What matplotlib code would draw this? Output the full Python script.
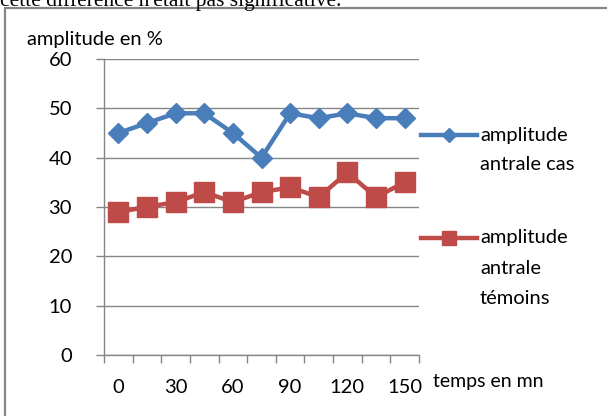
import matplotlib
matplotlib.use("Agg")
import matplotlib.pyplot as plt
from matplotlib.lines import Line2D
from matplotlib.patches import Rectangle

times = [0, 15, 30, 45, 60, 75, 90, 105, 120, 135, 150]
cas = [45, 47, 49, 49, 45, 40, 49, 48, 49, 48, 48]
temoins = [29, 30, 31, 33, 31, 33, 34, 32, 37, 32, 35]
yticks = [0, 10, 20, 30, 40, 50, 60]
label_cas = "amplitude\nantrale cas"
label_tem = "amplitude\nantrale\ntémoins"

W, H = 607, 416
fig = plt.figure(figsize=(W / 100, H / 100), dpi=100)
plt.rcParams['font.family'] = ['Lato', 'DejaVu Sans']

gray = '#868686'
blue = '#4A7EBB'
red = '#BE4B48'
fs = 14.5
lw = 3.2

def fx(px):
    return px / W

def fy(py):
    return 1 - py / H

# outer frame
fig.patches.append(Rectangle((fx(5), fy(440)), fx(700), fy(8) - fy(440),
                             transform=fig.transFigure, fill=False,
                             edgecolor=gray, linewidth=1.6))
# cropped text above
fig.text(fx(0), fy(6), "cette différence n'était pas significative.",
         family='Liberation Serif', fontsize=15.5, va='baseline', ha='left')

ax = fig.add_axes([fx(104), fy(355), fx(419) - fx(104), fy(59) - fy(355)])
x = list(range(len(times)))
ax.plot(x, cas, color=blue, lw=lw, marker='D', ms=10.5, zorder=3)
ax.plot(x, temoins, color=red, lw=lw, marker='s', ms=14.5, zorder=3)

ax.set_xlim(-0.5, len(times) - 0.5)
ax.set_ylim(0, 60)
ax.set_yticks(yticks)
ax.set_yticklabels([str(v) for v in yticks], fontsize=fs)
ax.set_xticks(x[::2])
ax.set_xticklabels([str(t) for t in times[::2]], fontsize=fs)
ax.set_xticks([i - 0.5 for i in range(len(times) + 1)], minor=True)
ax.tick_params(axis='x', which='major', length=0, pad=17)
ax.tick_params(axis='x', which='minor', length=6, color=gray, width=1, direction='out')
ax.tick_params(axis='y', length=6, color=gray, width=1, direction='out', pad=17)
ax.grid(axis='y', color=gray, lw=1)
ax.set_axisbelow(True)
for s in ['top', 'right']:
    ax.spines[s].set_visible(False)
for s in ['left', 'bottom']:
    ax.spines[s].set_color(gray)
    ax.spines[s].set_linewidth(1)

fig.text(fx(27), fy(39), "amplitude en %", fontsize=fs, va='center', ha='left')
fig.text(fx(433), fy(382), "temps en mn", fontsize=fs - 0.5, va='center', ha='left')

# legend
fig.lines.append(Line2D([fx(421), fx(477)], [fy(135), fy(135)], transform=fig.transFigure,
                        color=blue, lw=lw))
fig.lines.append(Line2D([fx(449)], [fy(135)], transform=fig.transFigure,
                        color=blue, marker='D', ms=7, lw=0))
for i, line in enumerate(label_cas.split("\n")):
    fig.text(fx(480), fy(135 + 30 * i), line, fontsize=fs, va='center', ha='left')

fig.lines.append(Line2D([fx(421), fx(477)], [fy(238), fy(238)], transform=fig.transFigure,
                        color=red, lw=lw))
fig.lines.append(Line2D([fx(449)], [fy(238)], transform=fig.transFigure,
                        color=red, marker='s', ms=10, lw=0))
for i, line in enumerate(label_tem.split("\n")):
    fig.text(fx(480), fy(238 + 30 * i), line, fontsize=fs, va='center', ha='left')

fig.savefig("out.png", dpi=100)
